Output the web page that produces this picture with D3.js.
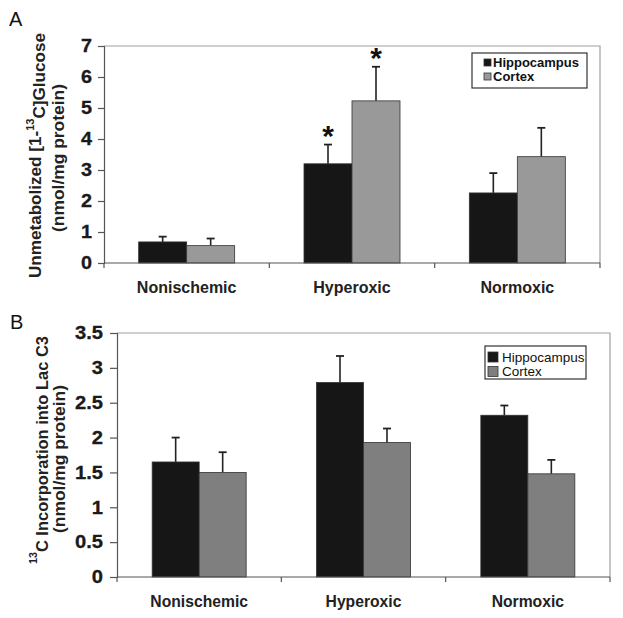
<!DOCTYPE html>
<html><head><meta charset="utf-8">
<script src="https://cdn.jsdelivr.net/npm/d3@7"></script>
<style>body{margin:0;background:#fff;} text{font-family:"Liberation Sans",Arial,sans-serif;}</style>
</head><body>
<svg id="c" width="623" height="618"></svg>
<script>
const categories = ["Nonischemic", "Hyperoxic", "Normoxic"];
const seriesNames = ["Hippocampus", "Cortex"];
// Panel A: unmetabolized [1-13C]glucose
const aHippo = [0.68, 3.20, 2.26];
const aHippoErr = [0.17, 0.62, 0.64];
const aCortex = [0.56, 5.23, 3.43];
const aCortexErr = [0.23, 1.10, 0.93];
const aSignificant = [[false, false], [true, true], [false, false]];
const aTicks = [0, 1, 2, 3, 4, 5, 6, 7];
// Panel B: 13C incorporation into Lac C3
const bHippo = [1.65, 2.79, 2.32];
const bHippoErr = [0.35, 0.38, 0.14];
const bCortex = [1.50, 1.93, 1.48];
const bCortexErr = [0.29, 0.20, 0.20];
const bTicks = [0, 0.5, 1, 1.5, 2, 2.5, 3, 3.5];

const svg = d3.select("#c");

function panel(o) {
  const g = svg.append("g");
  const x = d3.scaleBand().domain(categories).range([o.left, o.right]);
  const y = d3.scaleLinear().domain([0, o.max]).range([o.bottom, o.top]);
  const inner = d3.scaleBand().domain(seriesNames).range([0, o.barW * 2]);
  // frame top/right
  g.append("path").attr("d", `M${o.left},${o.top}H${o.right}V${o.bottom}`)
    .attr("fill", "none").attr("stroke", "#a0a0a0").attr("stroke-width", 1.2);
  // bars
  const vals = [o.h, o.c], errs = [o.he, o.ce], cols = ["#161616", o.cortexColor];
  seriesNames.forEach((s, si) => {
    categories.forEach((cat, ci) => {
      const x0 = x(cat) + x.bandwidth() / 2 - o.barW + inner(s);
      const v = vals[si][ci], e = errs[si][ci];
      const cx = x0 + o.barW / 2;
      g.append("line").attr("x1", cx).attr("x2", cx).attr("y1", y(v)).attr("y2", y(v + e))
        .attr("stroke", "#222").attr("stroke-width", 1.6);
      g.append("line").attr("x1", cx - 4).attr("x2", cx + 4).attr("y1", y(v + e)).attr("y2", y(v + e))
        .attr("stroke", "#222").attr("stroke-width", 1.8);
      g.append("rect").attr("x", x0).attr("y", y(v)).attr("width", o.barW).attr("height", y(0) - y(v))
        .attr("fill", cols[si]).attr("stroke", "#333").attr("stroke-width", 0.8);
      if (o.sig && o.sig[ci][si]) {
        g.append("text").attr("x", cx).attr("y", y(v + e) - 3).attr("text-anchor", "middle")
          .attr("font-size", 30).attr("font-weight", "bold").attr("fill", "#111").text("*")
          .attr("dy", "0.72em").attr("transform", `translate(0,-17)`);
      }
    });
  });
  // y axis
  const ya = d3.axisLeft(y).tickValues(o.ticks).tickSize(o.tickLen).tickPadding(o.tickPad).tickFormat(d3.format("~g"));
  const yg = g.append("g").attr("transform", `translate(${o.left},0)`).call(ya);
  yg.attr("font-size", o.tickFs).attr("font-family", "Liberation Sans, Arial, sans-serif");
  yg.select(".domain").attr("stroke", "#555").attr("stroke-width", 1.2);
  yg.selectAll(".tick line").attr("stroke", "#555").attr("stroke-width", 1.2);
  yg.selectAll(".tick text").each(function () {
    const t = d3.select(this);
    const x0 = +t.attr("x");
    t.attr("x", 0).attr("transform", `translate(${x0},0) scale(${o.tickSx},1)`);
  }).style("font-size", o.tickFs + "px").attr("font-weight", "bold").attr("fill", "#1a1a1a")
    .attr("stroke", "#1a1a1a").attr("stroke-width", 0.3);
  // x axis baseline and category separators
  g.append("line").attr("x1", o.left).attr("x2", o.right).attr("y1", o.bottom).attr("y2", o.bottom)
    .attr("stroke", "#555").attr("stroke-width", 1.2);
  categories.concat(["__end"]).forEach((cat, i) => {
    const xx = i < categories.length ? x(cat) : o.right;
    g.append("line").attr("x1", xx).attr("x2", xx).attr("y1", o.bottom).attr("y2", o.bottom + 5)
      .attr("stroke", "#555").attr("stroke-width", 1.2);
  });
  categories.forEach(cat => {
    g.append("text").attr("x", x(cat) + x.bandwidth() / 2).attr("y", o.catY).attr("text-anchor", "middle")
      .attr("font-size", o.catFs).attr("font-weight", "bold").attr("fill", "#222").text(cat);
  });
  // y label
  const yl = g.append("text").attr("transform", `translate(${o.ylx1},${o.yly1}) rotate(-90)`)
    .attr("text-anchor", "middle").attr("font-size", 17).attr("font-weight", "bold").attr("fill", "#222")
    .attr("textLength", o.yl1Len).attr("lengthAdjust", "spacingAndGlyphs");
  o.ylLine1(yl);
  g.append("text").attr("transform", `translate(${o.ylx2},${o.yly2}) rotate(-90)`)
    .attr("text-anchor", "middle").attr("font-size", 17).attr("font-weight", "bold").attr("fill", "#222")
    .attr("textLength", 148).attr("lengthAdjust", "spacingAndGlyphs")
    .text("(nmol/mg protein)");
  // legend
  const L = o.legend;
  g.append("rect").attr("x", L.x).attr("y", L.y).attr("width", L.w).attr("height", L.h)
    .attr("fill", "#fff").attr("stroke", "#333").attr("stroke-width", 1.2);
  seriesNames.forEach((s, si) => {
    const cy = L.y + L.first + si * L.step;
    g.append("rect").attr("x", L.sx).attr("y", cy - L.sq / 2).attr("width", L.sq).attr("height", L.sq)
      .attr("fill", cols[si]).attr("stroke", "#333").attr("stroke-width", 0.8);
    g.append("text").attr("x", L.tx).attr("y", cy).attr("dy", "0.36em").attr("font-size", L.fs)
      .attr("font-weight", L.bold ? "bold" : "normal").attr("fill", "#111").text(s);
  });
  // panel letter
  g.append("text").attr("x", o.letterX).attr("y", o.letterY).attr("font-size", 20).attr("fill", "#111").text(o.letter);
}

panel({
  left: 104, right: 600, top: 46, bottom: 263, max: 7, barW: 48,
  h: aHippo, he: aHippoErr, c: aCortex, ce: aCortexErr, sig: aSignificant, ticks: aTicks,
  cortexColor: "#999999", tickFs: 18, tickSx: 1.1, tickLen: 6, tickPad: 6, catFs: 16, catY: 293,
  ylx1: 41, ylx2: 64, yly1: 155.5, yly2: 158, yl1Len: 245,
  ylLine1: t => {
    t.append("tspan").text("Unmetabolized [1-"); t.append("tspan").attr("font-size", 11).attr("dy", "-0.6em").text("13");
    t.append("tspan").attr("dy", "0.6em").text("C]Glucose"); },
  legend: { x: 472, y: 53, w: 115, h: 35, first: 9.5, step: 14, sq: 7, sx: 484, tx: 493, fs: 13, bold: true },
  letter: "A", letterX: 9, letterY: 26
});

panel({
  left: 117, right: 610, top: 333, bottom: 577, max: 3.5, barW: 47,
  h: bHippo, he: bHippoErr, c: bCortex, ce: bCortexErr, sig: null, ticks: bTicks,
  cortexColor: "#7f7f7f", tickFs: 18, tickSx: 1.12, tickLen: 7, tickPad: 7, catFs: 15.7, catY: 607,
  ylx1: 44, ylx2: 65, yly1: 450, yly2: 459, yl1Len: 228,
  ylLine1: t => {
    t.append("tspan").attr("font-size", 11).attr("dy", "-0.6em").text("13");
    t.append("tspan").attr("dy", "0.6em").text("C Incorporation into Lac C3"); },
  legend: { x: 485, y: 346, w: 101, h: 33, first: 11, step: 14.5, sq: 10, sx: 488, tx: 502, fs: 13.5, bold: false },
  letter: "B", letterX: 10, letterY: 329
});
</script>
</body></html>
